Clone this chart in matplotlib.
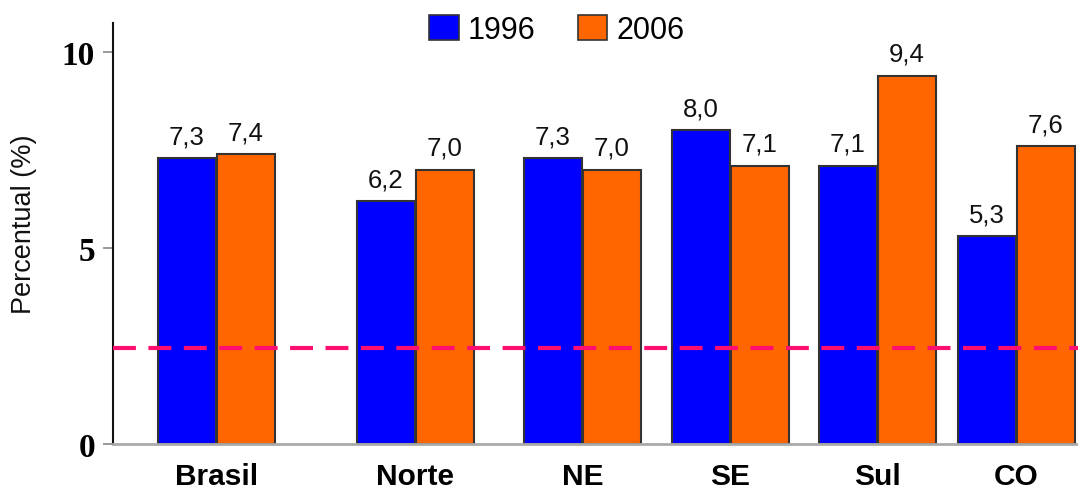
import matplotlib
matplotlib.use("Agg")
import matplotlib.pyplot as plt
from matplotlib.patches import Patch

# Data
regions = ["Brasil", "Norte", "NE", "SE", "Sul", "CO"]
vals_1996 = [7.3, 6.2, 7.3, 8.0, 7.1, 5.3]
vals_2006 = [7.4, 7.0, 7.0, 7.1, 9.4, 7.6]
series_labels = ["1996", "2006"]
reference_level = 2.45
yticks = [0, 5, 10]

# Layout (horizontal units: pixels across the figure)
W, H, DPI = 1078, 489, 100
group_centers = [216.5, 415.5, 582.5, 730.5, 877.5, 1016.5]
bar_w = 57.5
blue, orange = "#0000FF", "#FF6600"
edge = "#333333"
sans = "Liberation Sans"
serif = "Liberation Serif"

fig = plt.figure(figsize=(W / DPI, H / DPI), dpi=DPI)
ax_left, ax_bottom, ax_top = 113, 445, 24
ax = fig.add_axes([ax_left / W, (H - ax_bottom) / H, (W - ax_left) / W, (ax_bottom - ax_top) / H])
ax.set_xlim(ax_left, W)
ax.set_ylim(0, 10.74)

xb = [c - bar_w / 2 - 1 for c in group_centers]
xo = [c + bar_w / 2 + 0.5 for c in group_centers]
b1 = ax.bar(xb, vals_1996, width=bar_w, color=blue, edgecolor=edge, linewidth=1.5, zorder=2)
b2 = ax.bar(xo, vals_2006, width=bar_w, color=orange, edgecolor=edge, linewidth=1.5, zorder=2)

for bars, vals in ((b1, vals_1996), (b2, vals_2006)):
    for rect, v in zip(bars, vals):
        ax.annotate(f"{v:.1f}".replace(".", ","),
                    (rect.get_x() + rect.get_width() / 2, v),
                    xytext=(0, 7), textcoords="offset points",
                    ha="center", va="bottom", fontsize=18.5, family=sans,
                    fontweight="medium", color="#111111")

ax.axhline(reference_level, color="#FF1070", linewidth=3, dashes=(5.5, 3), zorder=3)

for s in ("top", "right"):
    ax.spines[s].set_visible(False)
ax.spines["left"].set_color("#111111")
ax.spines["left"].set_linewidth(1.5)
ax.spines["bottom"].set_color("#aaaaaa")
ax.spines["bottom"].set_linewidth(2)

ax.set_yticks(yticks)
ax.set_yticklabels([str(t) for t in yticks], family=serif, fontweight="bold", fontsize=24)
ax.tick_params(axis="y", length=7, width=1.2, color="#888888", pad=6)
ax.set_xticks(group_centers)
ax.set_xticklabels(regions, family=sans, fontweight="bold", fontsize=21.5)
ax.tick_params(axis="x", length=0, pad=13)

fig.text(24 / W, 1 - 224 / H, "Percentual (%)", rotation=90, ha="center", va="center",
         fontsize=19.5, family=sans, color="#111111")

handles = [Patch(facecolor=blue, edgecolor=edge, linewidth=1.2),
           Patch(facecolor=orange, edgecolor=edge, linewidth=1.2)]
fig.legend(handles, series_labels, loc="center", bbox_to_anchor=(557 / W, 1 - 31 / H),
           ncol=2, frameon=False, prop={"family": sans, "size": 22},
           handlelength=0.95, handleheight=0.85, handletextpad=0.3, columnspacing=1.4,
           borderpad=0, borderaxespad=0)

fig.savefig("out.png", dpi=DPI)
